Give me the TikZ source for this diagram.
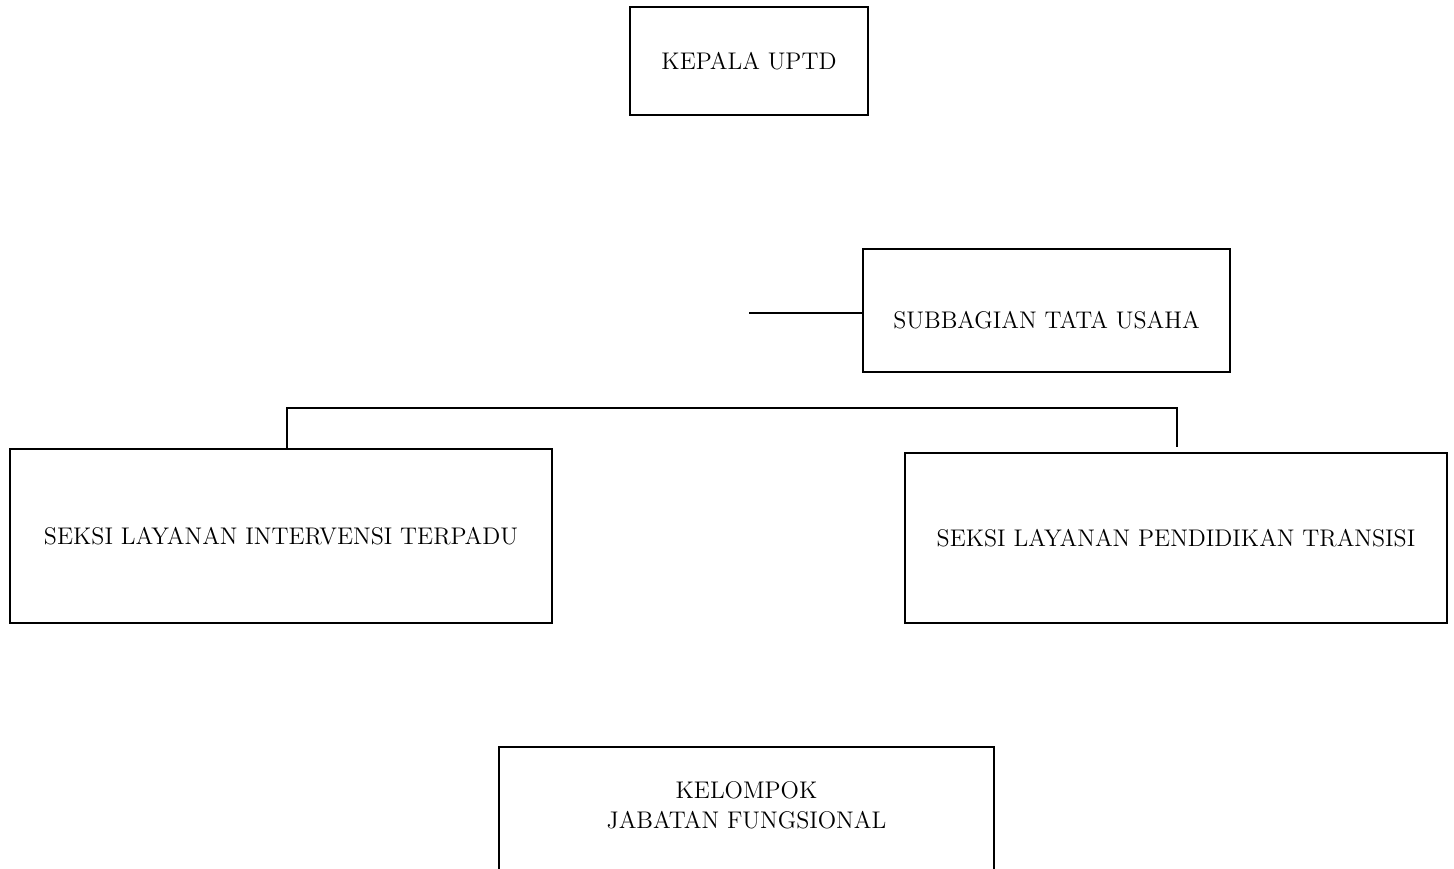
\documentclass[tikz,border=0pt]{standalone}
\usepackage{tikz}

\begin{document}
\begin{tikzpicture}[x=0.02cm, y=-0.02cm,
    box/.style={draw, line width=0.9pt, inner sep=0pt, align=center, font=\fontsize{13.7}{17}\selectfont},
    txt/.style={inner sep=0pt, align=center, font=\fontsize{13.7}{17}\selectfont},
    edge/.style={line width=0.9pt}]
            \useasboundingbox (0,0) rectangle (1454,869);
            \clip (0,0) rectangle (1454,869);

            %nodes
            \node[box, minimum width=4.76cm, minimum height=2.16cm] (kepala) at (749, 61) {KEPALA UPTD};
            \node[box, minimum width=7.34cm, minimum height=2.46cm] (tu) at (1046.5, 310.5) {};
            \node[txt] (tutext) at (1046.5, 320) {SUBBAGIAN TATA USAHA};
            \node[box, minimum width=10.84cm, minimum height=3.48cm] (seksi1) at (281, 536) {SEKSI LAYANAN INTERVENSI TERPADU};
            \node[box, minimum width=10.84cm, minimum height=3.4cm] (seksi2) at (1176, 538) {SEKSI LAYANAN PENDIDIKAN TRANSISI};
            \node[box, minimum width=9.9cm, minimum height=3.6cm, anchor=north] (jabfung) at (746.5, 746) {};
            \node[txt] (jabtext) at (746.5, 805) {KELOMPOK\\JABATAN FUNGSIONAL};

            %edges
            \coordinate (tuend) at (749, 313);
            \coordinate (bar) at (0, 408);
            \draw[edge] (tuend) -- (tu.west |- tuend);
            \draw[edge] ([xshift=0.12cm]seksi1.north) |- ([xshift=0.02cm]seksi2.north |- bar) -- ([xshift=0.02cm, yshift=0.1cm]seksi2.north);
        \end{tikzpicture}
\end{document}
